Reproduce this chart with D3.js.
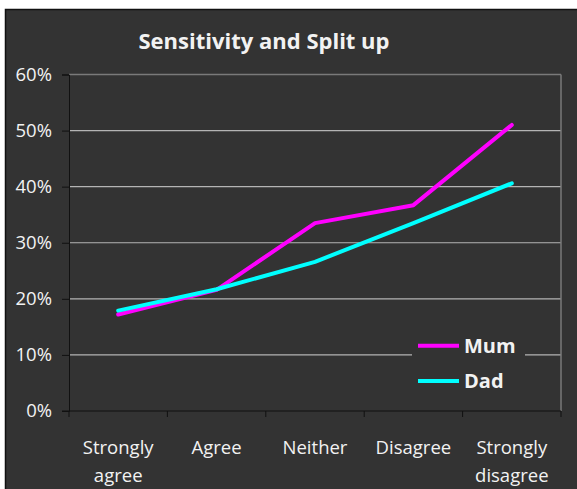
<!DOCTYPE html>
<html>
<head>
<meta charset="utf-8">
<script src="https://d3js.org/d3.v7.min.js"></script>
<style>
  body { margin: 0; background: #fff; }
  text { font-family: "Open Sans", Lato, sans-serif; fill: #f2f2f2; }
</style>
</head>
<body>
<div id="chart"></div>
<script>
// data
const categories = ["Strongly agree", "Agree", "Neither", "Disagree", "Strongly disagree"];
const mum = [0.172, 0.216, 0.335, 0.367, 0.510];
const dad = [0.179, 0.217, 0.266, 0.335, 0.406];
const yTicks = [0, 0.1, 0.2, 0.3, 0.4, 0.5, 0.6];

const width = 577, height = 489;
const plot = { left: 69, right: 561, top: 74.5, bottom: 411 };

let svg = d3.select("#chart")
    .append("svg")
        .attr("width", width)
        .attr("height", height);

// chart background + frame
svg.append("rect")
    .attr("x", 5.5).attr("y", 9.5)
    .attr("width", 600).attr("height", 500)
    .attr("fill", "#333333")
    .attr("stroke", "#111")
    .attr("stroke-width", 1.5);

let xScale = d3.scaleBand()
    .domain(categories)
    .range([plot.left, plot.right]);

let yScale = d3.scaleLinear()
    .domain([0, 0.6])
    .range([plot.bottom, plot.top]);

// gridlines
svg.append("g")
    .selectAll("line")
    .data(yTicks.slice(1))
    .enter()
    .append("line")
        .attr("x1", plot.left).attr("x2", plot.right)
        .attr("y1", d => yScale(d)).attr("y2", d => yScale(d))
        .attr("stroke", d => d === 0.6 ? "#7a7a7a" : "#b4b4b4")
        .attr("stroke-width", d => d === 0.6 ? 1.5 : 1.2);

// right border of plot area
svg.append("line")
    .attr("x1", plot.right).attr("x2", plot.right)
    .attr("y1", plot.top).attr("y2", plot.bottom)
    .attr("stroke", "#7a7a7a").attr("stroke-width", 1.5);

// y axis
let yAxis = svg.append("g")
    .attr("transform", `translate(${plot.left}, 0)`)
    .call(d3.axisLeft(yScale).tickValues(yTicks).tickFormat(d3.format(".0%")).tickSize(7).tickPadding(10));
yAxis.selectAll("line, path").attr("stroke", "#111");
yAxis.selectAll("text").attr("font-size", "18.5px").attr("fill", "#f2f2f2");

// x axis: ticks at category boundaries
let xAxisG = svg.append("g")
    .attr("transform", `translate(0, ${plot.bottom})`);
xAxisG.append("line")
    .attr("x1", plot.left - 7).attr("x2", plot.right)
    .attr("stroke", "#111").attr("stroke-width", 1);
xAxisG.selectAll(".tk")
    .data(categories.concat([null]))
    .enter()
    .append("line")
        .attr("class", "tk")
        .attr("x1", (d, i) => i < categories.length ? xScale(d) : plot.right)
        .attr("x2", (d, i) => i < categories.length ? xScale(d) : plot.right)
        .attr("y1", 0).attr("y2", 6)
        .attr("stroke", "#111");

xAxisG.selectAll(".lbl")
    .data(categories)
    .enter()
    .append("text")
        .attr("class", "lbl")
        .attr("text-anchor", "middle")
        .attr("font-size", "18.5px")
        .attr("x", d => xScale(d) + xScale.bandwidth() / 2)
        .each(function(d) {
            let words = d.split(" ");
            d3.select(this).selectAll("tspan")
                .data(words)
                .enter()
                .append("tspan")
                    .attr("x", xScale(d) + xScale.bandwidth() / 2)
                    .attr("y", (w, i) => 42.5 + i * 28.5)
                    .text(w => w);
        });

// lines
const series = [
    { name: "Mum", values: mum, color: "#ff00ff" },
    { name: "Dad", values: dad, color: "#00ffff" }
];

let line = d3.line()
    .x((d, i) => xScale(categories[i]) + xScale.bandwidth() / 2)
    .y(d => yScale(d));

svg.selectAll(".series")
    .data(series)
    .enter()
    .append("path")
        .attr("class", "series")
        .attr("d", d => line(d.values))
        .attr("fill", "none")
        .attr("stroke", d => d.color)
        .attr("stroke-width", 4)
        .attr("stroke-linecap", "round")
        .attr("stroke-linejoin", "round");

// legend
let legend = svg.append("g");
legend.append("rect")
    .attr("x", 412).attr("y", 330)
    .attr("width", 113).attr("height", 66)
    .attr("fill", "#333333");
let items = legend.selectAll(".item")
    .data(series)
    .enter()
    .append("g")
        .attr("transform", (d, i) => `translate(418, ${345.7 + i * 35.3})`);
items.append("line")
    .attr("x1", 0).attr("x2", 41)
    .attr("stroke", d => d.color)
    .attr("stroke-width", 4);
items.append("text")
    .attr("x", 46).attr("y", 7)
    .attr("font-size", "20px")
    .attr("font-weight", "bold")
    .text(d => d.name);

// title
svg.append("text")
    .attr("x", 264).attr("y", 49)
    .attr("text-anchor", "middle")
    .attr("font-size", "22px")
    .attr("font-weight", "bold")
    .text("Sensitivity and Split up");
</script>
</body>
</html>
